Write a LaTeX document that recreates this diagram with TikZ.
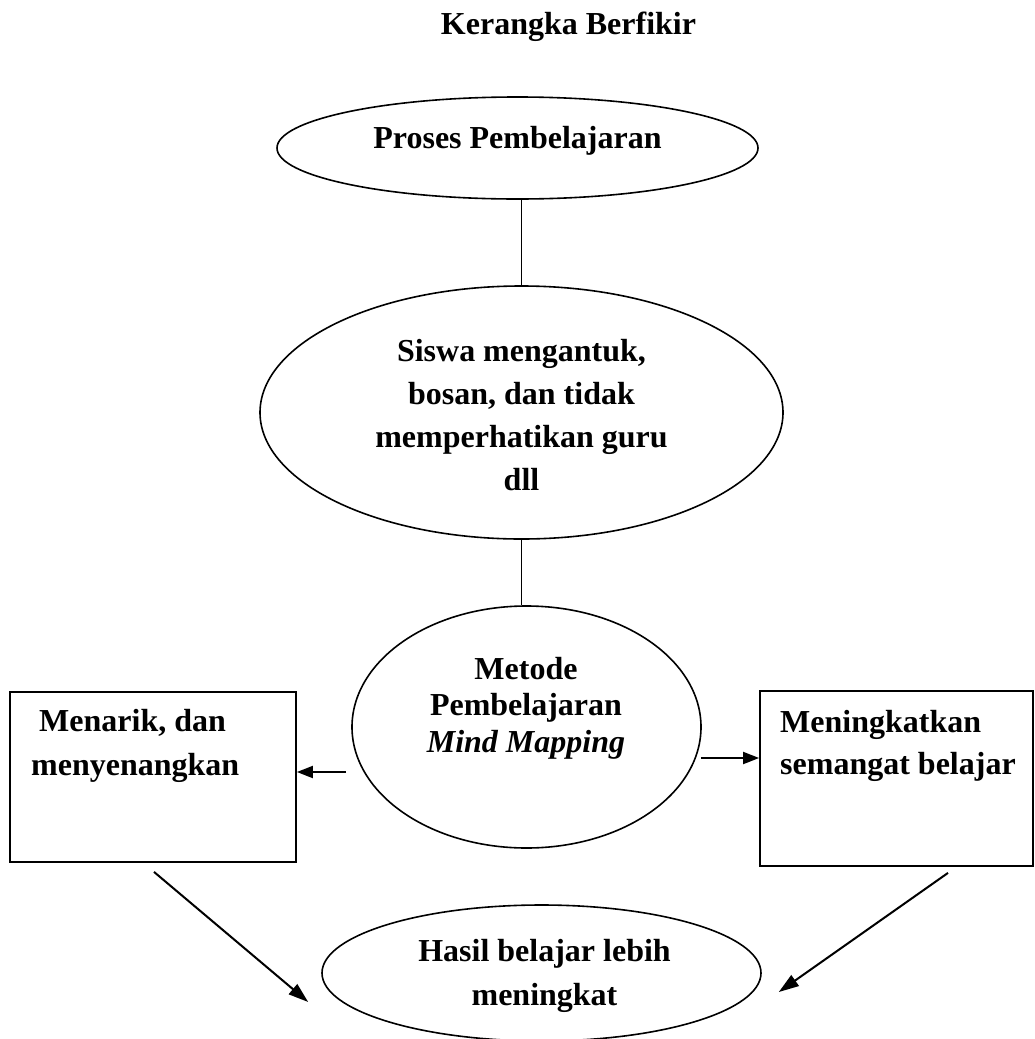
\documentclass[tikz,border=0pt]{standalone}
\usepackage{fontspec}
\setmainfont{Liberation Serif}
\usetikzlibrary{shapes.geometric,arrows.meta,calc}
\begin{document}
\begin{tikzpicture}[x=1pt,y=-1pt,
  oval/.style={draw, ellipse, line width=1.6pt, inner sep=0pt},
  box/.style={draw, rectangle, line width=1.8pt, inner sep=0pt},
  txt/.style={inner sep=0pt, font=\bfseries\fontsize{32}{43}\selectfont},
  link/.style={line width=1.5pt},
  arr/.style={line width=2pt, -{Triangle[length=16pt,width=12pt]}},
  arrd/.style={line width=2pt, -{Triangle[length=20pt,width=13pt]}},
]
\useasboundingbox[fill=white] (0,0) rectangle (1035,1039);

% shapes
\node[oval, minimum width=481pt, minimum height=102pt] (e1) at (517.5,148) {};
\node[oval, minimum width=523pt, minimum height=253pt] (e2) at (521.5,412.5) {};
\node[oval, minimum width=349pt, minimum height=242pt] (e3) at (526.5,727) {};
\node[oval, minimum width=439pt, minimum height=136pt] (bot) at (541.5,973) {};
\node[box, minimum width=286pt, minimum height=170pt] (lrect) at (153,777) {};
\node[box, minimum width=273pt, minimum height=175pt] (rrect) at (896.5,778.5) {};

% texts
\node[txt, anchor=base] (title) at (568.5,34) {Kerangka Berfikir};
\node[txt, anchor=base] (e1t) at (517.5,148) {Proses Pembelajaran};
\node[txt, anchor=north, align=center] (e2t) at (521.5,337)
  {\rule{0pt}{24pt}Siswa mengantuk,\\bosan, dan tidak\\memperhatikan guru\\dll};
\node[txt, anchor=north, align=center, font=\bfseries\fontsize{32}{36.5}\selectfont] (e3t) at (526,655)
  {\rule{0pt}{24pt}Metode\\Pembelajaran\\\textit{Mind Mapping}};
\node[txt, anchor=north, align=center, font=\bfseries\fontsize{32}{44}\selectfont] (bott) at (544.5,937)
  {\rule{0pt}{24pt}Hasil belajar lebih\\meningkat};
\node[txt, anchor=north west, align=left, font=\bfseries\fontsize{32}{44}\selectfont] (lt) at (31,707)
  {\rule{0pt}{24pt}\hspace{8pt}Menarik, dan\\menyenangkan};
\node[txt, anchor=north west, align=left, font=\bfseries\fontsize{32}{42}\selectfont] (rt) at (780,708)
  {\rule{0pt}{24pt}Meningkatkan\\semangat belajar};

% connectors
\draw[link] (e1.south -| e2.north) -- (e2.north);
\draw[link] (e2.south) -- (e2.south |- e3.north);

\coordinate (la) at ($(e3.west)+(-5,45)$);
\draw[arr] (la) -- (la -| lrect.east);
\coordinate (ra) at ($(e3.east)+(-1,31)$);
\draw[arr] (ra) -- (ra -| rrect.west);

\draw[arrd] ($(lrect.south)+(1,9)$) -- ($(bot.west)+(-13,29)$);
\draw[arrd] ($(rrect.south)+(51.5,6)$) -- ($(bot.east)+(17,19)$);
\end{tikzpicture}
\end{document}
